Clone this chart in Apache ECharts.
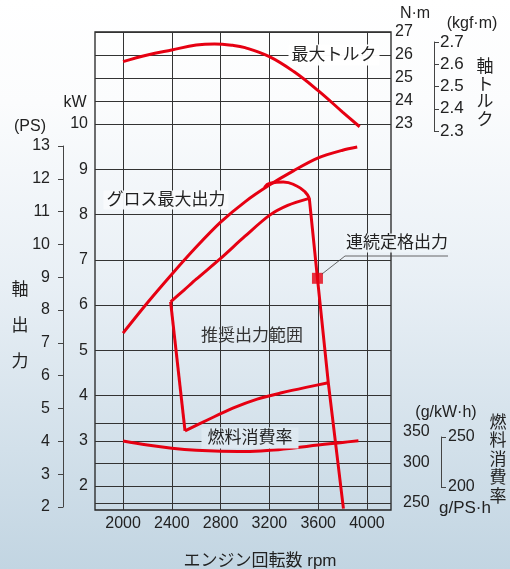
<!DOCTYPE html>
<html><head><meta charset="utf-8">
<script src="https://cdn.jsdelivr.net/npm/echarts@6/dist/echarts.min.js"></script>
<style>html,body{margin:0;padding:0;}#c{width:510px;height:569px;}</style>
</head><body><div id="c"></div>
<script>
// ---- data ----
const rpmTicks = [2000, 2400, 2800, 3200, 3600, 4000];
const kwTicks = [2, 3, 4, 5, 6, 7, 8, 9, 10];
const nmTicks = [23, 24, 25, 26, 27];
const fuelTicks = [250, 300, 350];          // g/kW·h
const psTicks = [2,3,4,5,6,7,8,9,10,11,12,13];
const kgfTicks = [2.3, 2.4, 2.5, 2.6, 2.7];
const gpsTicks = [200, 250];                // g/PS·h

const torqueCurve = [[2000,25.71],[2200,26.0],[2400,26.22],[2600,26.43],[2750,26.48],[2900,26.42],[3000,26.32],[3200,25.93],[3400,25.28],[3600,24.45],[3800,23.52],[3940,22.88]]; // N·m
const grossPower = [[2000,5.38],[2200,6.05],[2400,6.68],[2600,7.28],[2800,7.83],[3000,8.28],[3200,8.65],[3400,8.97],[3600,9.25],[3800,9.42],[3920,9.49]]; // kW
const hookCurve = [[3160,8.60],[3205,8.69],[3314,8.72],[3424,8.63],[3492,8.50],[3527,8.36]];
const steepLine = [[3527,8.36],[3594,6.59],[3683,4.28],[3807,1.50]];
const lowerCurve = [[2390,6.07],[2500,6.33],[2600,6.57],[2800,7.03],[3000,7.52],[3200,7.98],[3350,8.20],[3520,8.35]];
const rangeLeft = [[2390,6.07],[2508,3.22]];
const rangeBottom = [[2508,3.22],[2700,3.47],[2900,3.72],[3100,3.92],[3300,4.06],[3500,4.18],[3683,4.28]];
const fuelCurve = [[2000,327.5],[2200,322.5],[2400,318.5],[2600,315.8],[2800,314.6],[3000,314.4],[3200,315.8],[3400,318.8],[3600,322.5],[3800,325.7],[3930,327.9]]; // g/kW·h
const ratedPoint = [[3594,6.59]];

// ---- styling ----
const FONT = "'Liberation Sans','Noto Sans CJK JP',sans-serif";
const TXT = '#222';
const RED = '#e60012';
const GRID = '#333';

const chart = echarts.init(document.getElementById('c'), null, {renderer: 'canvas'});

function gridLines(axisKey, vals) {
  return {
    silent: true, z: 1, symbol: ['none','none'], animation: false,
    label: {show: false},
    lineStyle: {color: GRID, width: 1, type: 'solid'},
    emphasis: {disabled: true},
    data: vals.map(v => ({[axisKey]: v}))
  };
}
function redLine(data, yIdx, smooth, extra) {
  return Object.assign({
    type: 'line', data: data, yAxisIndex: yIdx, xAxisIndex: 0,
    showSymbol: false, symbol: 'none', smooth: smooth, z: 3,
    lineStyle: {color: RED, width: 3}, silent: true, animation: false
  }, extra || {});
}
const lbl = (extra) => Object.assign({fontFamily: FONT, fontSize: 16, color: TXT, formatter: v => String(v)}, extra || {});
const bracketLine = {show: true, onZero: false, lineStyle: {color: '#444', width: 1}};
const bracketTick = {show: true, length: 5, lineStyle: {color: '#444', width: 1}};

function txt(x, y, text, opts) {
  opts = opts || {};
  return {
    type: 'text', x: x, y: y, z: 10, silent: true,
    style: Object.assign({
      text: text, fontFamily: FONT, fontSize: 16, fill: TXT,
      align: 'center', verticalAlign: 'middle'
    }, opts)
  };
}

const option = {
  animation: false,
  backgroundColor: {
    type: 'linear', x: 0, y: 0, x2: 0, y2: 1,
    colorStops: [
      {offset: 0, color: '#ffffff'},
      {offset: 0.18, color: '#fbfcfd'},
      {offset: 0.5, color: '#e8eff5'},
      {offset: 1, color: '#c2d5e2'}
    ]
  },
  grid: [
    {left: 95, top: 32, width: 296, height: 478, show: true, borderColor: '#222', borderWidth: 1.3, backgroundColor: 'transparent', containLabel: false},
    {left: 63, top: 146, width: 1, height: 361},
    {left: 400, top: 42, width: 34, height: 89},
    {left: 400, top: 437, width: 41, height: 50}
  ],
  xAxis: [
    {gridIndex: 0, type: 'value', min: 1770, max: 4197,
     axisLine: {show: false}, axisTick: {show: false}, splitLine: {show: false},
     axisLabel: lbl({customValues: rpmTicks, margin: 6})},
    {gridIndex: 1, type: 'value', min: 0, max: 1, show: false},
    {gridIndex: 2, type: 'value', min: 0, max: 1, show: false},
    {gridIndex: 3, type: 'value', min: 0, max: 1, show: false}
  ],
  yAxis: [
    {gridIndex: 0, type: 'value', position: 'left', min: 1.470, max: 12.033,
     axisLine: {show: false}, axisTick: {show: false}, splitLine: {show: false},
     axisLabel: lbl({customValues: kwTicks, margin: 7})},
    {gridIndex: 0, type: 'value', position: 'right', min: 6.217, max: 27,
     axisLine: {show: false}, axisTick: {show: false}, splitLine: {show: false},
     axisLabel: lbl({customValues: nmTicks, margin: 4})},
    {gridIndex: 0, type: 'value', position: 'right', min: 241.25, max: 838.75,
     axisLine: {show: false}, axisTick: {show: false}, splitLine: {show: false},
     axisLabel: lbl({customValues: fuelTicks, margin: 12,
       formatter: v => v === 350 ? '{d|350}' : String(v),
       rich: {d: {fontFamily: FONT, fontSize: 16, color: TXT, padding: [18, 0, 0, 0]}}})},
    {gridIndex: 1, type: 'value', position: 'left', min: 2, max: 13, interval: 1,
     axisLine: bracketLine, axisTick: bracketTick, splitLine: {show: false},
     axisLabel: lbl({margin: 13, customValues: psTicks})},
    {gridIndex: 2, type: 'value', position: 'right', min: 2.3, max: 2.7, interval: 0.1,
     axisLine: bracketLine, axisTick: bracketTick, splitLine: {show: false},
     axisLabel: lbl({margin: 6, fontSize: 17, customValues: kgfTicks, formatter: v => v.toFixed(1)})},
    {gridIndex: 3, type: 'value', position: 'right', min: 200, max: 250, interval: 50,
     axisLine: bracketLine, axisTick: bracketTick, splitLine: {show: false},
     axisLabel: lbl({margin: 7, customValues: gpsTicks})}
  ],
  series: [
    {type: 'line', xAxisIndex: 0, yAxisIndex: 0, data: [], silent: true, markLine: gridLines('yAxis', kwTicks)},
    {type: 'line', xAxisIndex: 0, yAxisIndex: 0, data: [], silent: true, markLine: gridLines('xAxis', rpmTicks)},
    {type: 'line', xAxisIndex: 0, yAxisIndex: 1, data: [], silent: true, markLine: gridLines('yAxis', nmTicks)},
    {type: 'line', xAxisIndex: 0, yAxisIndex: 2, data: [], silent: true, markLine: gridLines('yAxis', fuelTicks)},
    redLine(torqueCurve, 1, 0.4),
    redLine(grossPower, 0, 0.3),
    redLine(hookCurve, 0, 0.5),
    redLine(steepLine, 0, false),
    redLine(lowerCurve, 0, 0.3),
    redLine(rangeLeft, 0, false),
    redLine(rangeBottom, 0, 0.3),
    redLine(fuelCurve, 2, 0.4),
    {type: 'scatter', xAxisIndex: 0, yAxisIndex: 0, data: ratedPoint, symbol: 'rect', symbolSize: 11,
     itemStyle: {color: RED}, z: 4, silent: true}
  ],
  graphic: [
    txt(334, 55, '最大トルク', {fontSize: 17, backgroundColor: 'rgba(255,255,255,0.97)', padding: [2, 3]}),
    txt(166, 200, 'グロス最大出力', {fontSize: 17, backgroundColor: 'rgba(248,250,252,0.95)', padding: [1, 3]}),
    txt(397, 243, '連続定格出力', {fontSize: 17, backgroundColor: 'rgba(240,245,248,0.9)', padding: [1, 2]}),
    txt(252, 336, '推奨出力範囲', {fontSize: 17, fill: '#333'}),
    txt(250, 438, '燃料消費率', {fontSize: 17, backgroundColor: 'rgba(222,233,241,1)', padding: [2, 6]}),
    {type: 'polyline', z: 9, silent: true, shape: {points: [[322, 274], [345, 256], [448, 256]]},
     style: {stroke: '#444', lineWidth: 0.8, fill: null}},
    txt(415, 14, 'N·m'),
    txt(472, 24, '(kgf·m)'),
    txt(75, 103, 'kW'),
    txt(30, 127, '(PS)'),
    txt(446, 413, '(g/kW·h)'),
    txt(465, 508, 'g/PS·h', {fontSize: 17}),
    txt(485, 94, '軸\nト\nル\nク', {fontSize: 17, lineHeight: 17.5}),
    txt(498, 460, '燃\n料\n消\n費\n率', {fontSize: 17, lineHeight: 18.5}),
    txt(20, 290, '軸', {fontSize: 17}),
    txt(20, 326, '出', {fontSize: 17}),
    txt(20, 362, '力', {fontSize: 17}),
    txt(260, 561, 'エンジン回転数 rpm', {fontSize: 17})
  ]
};
chart.setOption(option);
</script>
</body></html>
